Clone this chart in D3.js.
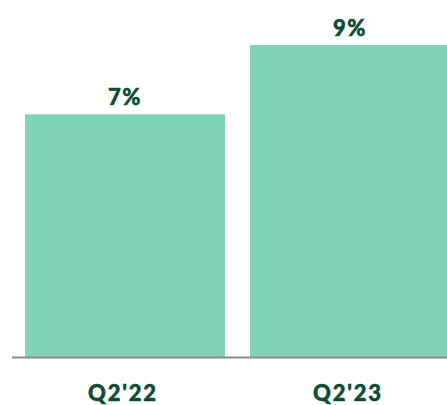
<!DOCTYPE html>
<html>
<head>
<meta charset="utf-8">
<script src="https://cdn.jsdelivr.net/npm/d3@7"></script>
<style>
  body { margin: 0; background: #fff; }
  text { font-family: Lato, sans-serif; font-weight: 900; fill: #0b4c33; stroke: #0b4c33; stroke-width: 0.5px; }
</style>
</head>
<body>
<script>
// chart data
var categories = ["Q2'22", "Q2'23"];
var values = [7, 9];
var valueLabels = ["7%", "9%"];

var width = 447,
    height = 405,
    baseline = 357;

var svg = d3.select("body").append("svg")
    .attr("width", width)
    .attr("height", height);

// step 225, bars 200 wide
var x = d3.scaleBand()
    .domain(categories)
    .range([12.5, 462.5])
    .paddingInner(1 / 9)
    .paddingOuter(1 / 18);

var y = d3.scaleLinear()
    .domain([0, 9])
    .range([baseline, 45]);

svg.selectAll(".bar")
    .data(values)
    .enter().append("rect")
    .attr("class", "bar")
    .attr("x", function(d, i) { return x(categories[i]); })
    .attr("y", function(d) { return y(d); })
    .attr("width", x.bandwidth())
    .attr("height", function(d) { return baseline - y(d); })
    .attr("fill", "#81d4b5");

// baseline
svg.append("line")
    .attr("x1", 12).attr("x2", width)
    .attr("y1", baseline + 0.5).attr("y2", baseline + 0.5)
    .attr("stroke", "#8a8a8a")
    .attr("stroke-width", 2);

svg.selectAll(".val")
    .data(values)
    .enter().append("text")
    .attr("class", "val")
    .attr("x", function(d, i) { return x(categories[i]) + x.bandwidth() / 2; })
    .attr("y", function(d) { return y(d) - 9; })
    .attr("text-anchor", "middle")
    .style("font-size", "22px")
    .style("letter-spacing", "1.5px")
    .text(function(d, i) { return valueLabels[i]; });

svg.selectAll(".cat")
    .data(categories)
    .enter().append("text")
    .attr("class", "cat")
    .attr("x", function(d) { return x(d) + x.bandwidth() / 2 - 2; })
    .attr("y", 401)
    .attr("text-anchor", "middle")
    .style("font-size", "22px")
    .style("letter-spacing", "1.8px")
    .text(function(d) { return d; });
</script>
</body>
</html>
